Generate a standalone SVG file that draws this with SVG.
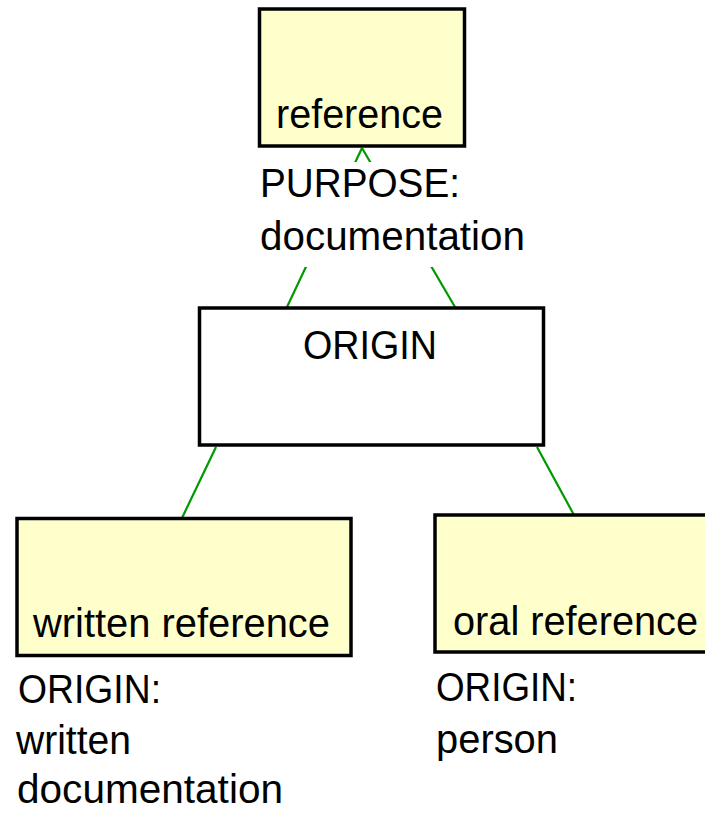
<svg xmlns="http://www.w3.org/2000/svg" width="705" height="813" viewBox="0 0 705 813">
<style>
.box{stroke:#000;stroke-width:3.5}
.y{fill:#ffffcc}
.w{fill:#ffffff}
.t{font-family:"Liberation Sans",Arial,sans-serif;font-size:40px;fill:#000}
.c{stroke:#009900;stroke-width:2.2;fill:none}
</style>
<rect width="705" height="813" fill="#fff"/>
<g id="connectors">
<line class="c" x1="287" y1="307" x2="362" y2="148"/>
<line class="c" x1="455" y1="307" x2="362" y2="148"/>
<line class="c" x1="216" y1="447" x2="182" y2="518"/>
<line class="c" x1="537" y1="447" x2="574" y2="515"/>
</g>
<g id="purpose-label">
<rect x="255" y="162" width="280" height="105" fill="#fff"/>
<text class="t" x="260" y="197" textLength="200" lengthAdjust="spacingAndGlyphs">PURPOSE:</text>
<text class="t" x="260" y="250" textLength="265" lengthAdjust="spacingAndGlyphs">documentation</text>
</g>
<g id="node-reference">
<rect class="box y" x="259.5" y="9" width="205" height="137"/>
<text class="t" x="276" y="128" textLength="167" lengthAdjust="spacingAndGlyphs">reference</text>
</g>
<g id="node-origin">
<rect class="box w" x="199.5" y="308" width="344" height="137"/>
<text class="t" x="303" y="359" textLength="134" lengthAdjust="spacingAndGlyphs">ORIGIN</text>
</g>
<g id="node-written">
<rect class="box y" x="17" y="518.5" width="334" height="137"/>
<text class="t" x="33" y="637" textLength="297" lengthAdjust="spacingAndGlyphs">written reference</text>
</g>
<g id="node-oral">
<rect class="box y" x="435" y="515" width="290" height="137"/>
<text class="t" x="453" y="635" textLength="245" lengthAdjust="spacingAndGlyphs">oral reference</text>
</g>
<g id="written-label">
<text class="t" x="18" y="703" textLength="143" lengthAdjust="spacingAndGlyphs">ORIGIN:</text>
<text class="t" x="16" y="754" textLength="115" lengthAdjust="spacingAndGlyphs">written</text>
<text class="t" x="17" y="803" textLength="266" lengthAdjust="spacingAndGlyphs">documentation</text>
</g>
<g id="oral-label">
<text class="t" x="436" y="701" textLength="141" lengthAdjust="spacingAndGlyphs">ORIGIN:</text>
<text class="t" x="436" y="753" textLength="122" lengthAdjust="spacingAndGlyphs">person</text>
</g>
</svg>
